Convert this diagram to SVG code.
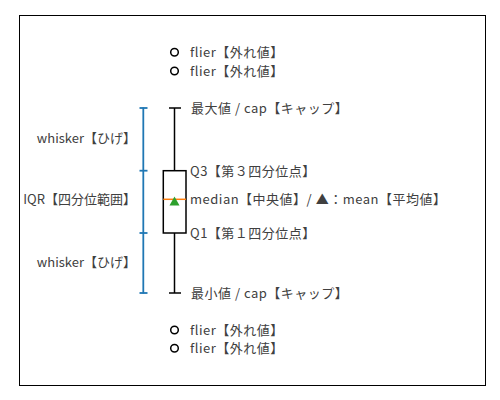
<svg xmlns="http://www.w3.org/2000/svg" width="500" height="400" viewBox="0 0 500 400">
<style>
text{font-family:"Noto Sans CJK JP","Noto Sans",sans-serif;font-size:13px;fill:#404040;dominant-baseline:central;letter-spacing:0.5px}
.r{text-anchor:end;letter-spacing:0}
.k{fill:none;stroke:#000;stroke-width:1.5}
.b{fill:none;stroke:#1f77b4;stroke-width:1.8}
.f{fill:none;stroke:#000;stroke-width:1.5}
</style>
<rect x="19.5" y="15.5" width="466" height="370" fill="#fff" stroke="#000" stroke-width="1"/>
<g id="connectors">
<line class="k" x1="174.5" y1="108" x2="174.5" y2="170.7"/>
<line class="k" x1="174.5" y1="233" x2="174.5" y2="293"/>
<line class="k" x1="169" y1="108" x2="181" y2="108"/>
<line class="k" x1="169" y1="293" x2="181" y2="293"/>
<line class="b" x1="143.3" y1="107.5" x2="143.3" y2="293.5"/>
<line class="b" x1="139.5" y1="108" x2="147.5" y2="108"/>
<line class="b" x1="139.5" y1="170.7" x2="147.5" y2="170.7"/>
<line class="b" x1="139.5" y1="233" x2="147.5" y2="233"/>
<line class="b" x1="139.5" y1="293" x2="147.5" y2="293"/>
</g>
<g id="box">
<rect class="k" x="163.3" y="170.7" width="22.7" height="62.3" fill="#fff"/>
<line x1="163.3" y1="199.3" x2="186" y2="199.3" stroke="#ff7f0e" stroke-width="1.5"/>
<polygon points="174.5,196.5 179.5,205.5 169.5,205.5" fill="#2ca02c"/>
</g>
<g id="flier1"><circle class="f" cx="174.5" cy="52.3" r="3.8"/><text x="190" y="51.7">flier【外れ値】</text></g>
<g id="flier2"><circle class="f" cx="174.5" cy="71" r="3.8"/><text x="190" y="70.4">flier【外れ値】</text></g>
<g id="flier3"><circle class="f" cx="174.5" cy="330" r="3.8"/><text x="190" y="329.4">flier【外れ値】</text></g>
<g id="flier4"><circle class="f" cx="174.5" cy="348.3" r="3.8"/><text x="190" y="347.7">flier【外れ値】</text></g>
<g id="max"><text x="191" y="107.4">最大値 / cap【キャップ】</text></g>
<g id="q3"><text x="190" y="170.1">Q3【第３四分位点】</text></g>
<g id="median"><text x="190" y="198.7">median【中央値】/ ▲：mean【平均値】</text></g>
<g id="q1"><text x="190" y="232.4">Q1【第１四分位点】</text></g>
<g id="min"><text x="191" y="292.4">最小値 / cap【キャップ】</text></g>
<g id="whisker-top"><text class="r" x="136" y="137.6">whisker【ひげ】</text></g>
<g id="iqr"><text class="r" x="136" y="198.6">IQR【四分位範囲】</text></g>
<g id="whisker-bottom"><text class="r" x="136" y="261.6">whisker【ひげ】</text></g>
</svg>
